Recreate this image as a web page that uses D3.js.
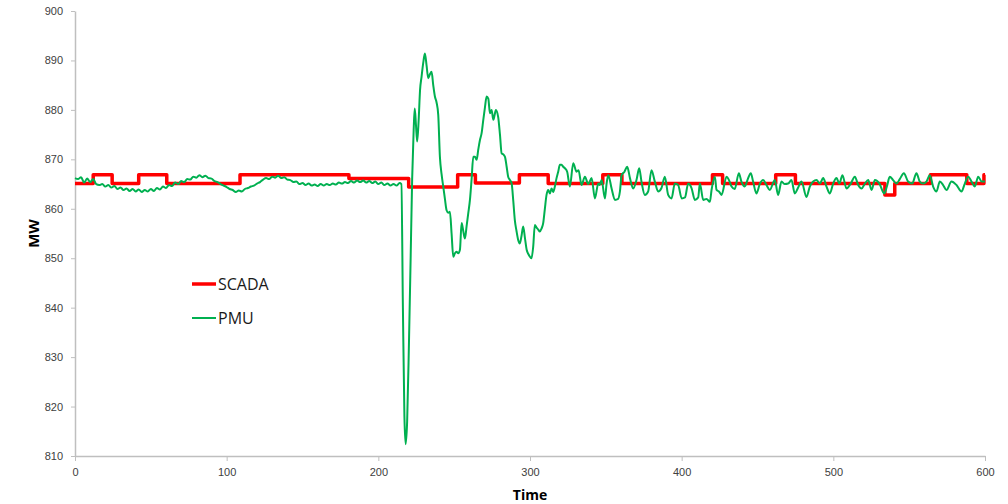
<!DOCTYPE html>
<meta charset="utf-8">
<html>
<head>
<style>
  body { margin: 0; background: #fff; }
  svg { font-family: "Open Sans", "Liberation Sans", sans-serif; }
  .axis path, .axis line { stroke: #bfbfbf; }
  .axis text { fill: #404040; font-size: 11px; }
</style>
</head>
<body>
<svg width="1008" height="504" id="chart"></svg>
<script src="https://d3js.org/d3.v7.min.js"></script>
<script>
// SCADA readings (step values, time in s)
var scadaT = [0, 12, 24.5, 42, 60.5, 108.8, 180.6, 220, 252.3, 264, 293, 312, 348, 360.6, 420.3, 427, 462, 475, 534, 540.5, 564, 588, 599.3, 600];
var scadaV = [865.1, 866.9, 865.1, 866.9, 865.1, 866.9, 866.1, 864.4, 866.9, 865.2, 866.9, 865.1, 866.9, 865.1, 866.9, 865.1, 866.9, 865.1, 862.8, 865.1, 866.9, 865.1, 866.9, 866.9];

// PMU readings
var pmuT = [0, 2, 4, 6, 8, 10, 12, 14, 16, 18, 20, 22, 24, 26, 28, 30, 32, 34, 36, 38, 40, 42, 44, 46, 48, 50,
  52, 54, 56, 58, 60, 62, 64, 66, 68, 70, 72, 74, 76, 78, 80, 82, 84, 86, 88, 90, 92, 94, 96, 98, 100,
  102, 104, 106, 108, 110, 112, 114, 116, 118, 120, 122, 124, 126, 128, 130, 132, 134, 136, 138, 140,
  142, 144, 146, 148, 150, 152, 154, 156, 158, 160, 162, 164, 166, 168, 170, 172, 174, 176, 178, 180,
  182, 184, 186, 188, 190, 192, 194, 196, 198, 200, 202, 204, 206, 208, 210, 212, 214,
  215.2, 216.2, 217.2, 218, 219, 220.2, 221.3, 222.3, 223.3, 224, 224.8, 225.6, 226.6, 227.5, 228.5,
  229.6, 230.7, 231.8, 232.9, 234, 235.1, 236.2, 237.3, 238.4, 239.5, 240.6, 241.7, 242.8, 243.9, 245,
  246.1, 247.2, 248.3, 249.4, 250.5, 251.6, 252.7, 253.8, 254.9, 256, 257.1, 258.2, 259.3, 260.4, 261.5,
  262.6, 263.7, 264.8, 265.9, 267, 268.1, 269.2, 270.3, 271.4, 272.5, 273.6, 274.7, 275.8, 276.7, 277.5,
  279, 280.2, 281.3, 282.4, 283.5, 284.6, 285.6, 286.8, 287.9, 289, 290, 291.1, 292.2, 293.3, 294.4,
  295.5, 296.7, 297.8, 299, 300, 301, 302.1, 303.2, 304.3, 305.4, 306.5, 307.6, 308.7, 309.8, 310.9,
  312, 313.1, 314.2, 315.3, 316.4, 317.5, 318.6, 319.7, 320.8, 321.9, 323, 324.5, 326.3, 328.5, 330.7,
  332, 334, 336.2, 338.4, 340.6, 342.8, 345, 346, 347.2, 349.4, 350.5, 351.6, 353.8, 356, 358.1, 359.3,
  360.4, 362.3, 364.1, 365.9, 368, 370.2, 372, 373.5, 375.7, 377.9, 380.1, 382.3, 384.5, 386.7, 388.9,
  391.1, 393.3, 395.5, 397.7, 400, 402.2, 404.3, 406.5, 408.7, 410.9, 412, 414.2, 416.4, 418.6, 419.7,
  421.9, 423, 424.6, 426.3, 429.6, 431.2, 432.9, 435, 437.7, 439.4, 441.6, 443.6, 445.6, 447.1, 449.3,
  451.5, 453.7, 455.9, 458.1, 461.4, 463.6, 465.8, 468, 470.2, 472.4, 474.6, 476.8, 479, 482.3, 484.5,
  486.7, 488.9, 491.1, 493.3, 495.5, 497.7, 499.9, 502.1, 504, 506, 508.7, 511.5, 514.2, 516.4, 518.6,
  520.8, 523, 525.2, 527.4, 530.4, 533.5, 535.3, 537.2, 539.4, 541.6, 543.8, 546.5, 549.3, 552, 554.8,
  557, 559.2, 561.4, 563.6, 565.8, 568, 570.2, 572.4, 574.6, 577.9, 581.2, 584.5, 586.7, 588.9, 591.1,
  593.3, 595.5, 597.8, 600];
var pmuV = [866.2, 866.0, 866.4, 865.3, 866.1, 865.4, 866.0, 865.0, 864.8, 865.0, 864.5, 864.8, 864.3, 864.6, 864.0, 864.3, 863.8, 864.1, 863.6, 864.0, 863.5, 863.9, 863.4, 863.8, 863.5, 864.0,
  863.6, 864.2, 863.9, 864.5, 864.2, 864.8, 864.6, 865.3, 865.0, 865.6, 865.4, 866.0, 865.9, 866.5, 866.3, 866.8, 866.4, 866.7, 866.2, 866.1, 865.6, 865.4, 865.0, 864.7, 864.4,
  864.0, 863.8, 863.4, 863.7, 863.5, 864.0, 864.2, 864.5, 864.7, 865.1, 865.4, 865.9, 866.2, 866.0, 866.5, 866.3, 866.7, 866.2, 866.4, 865.9,
  865.8, 865.4, 865.5, 865.0, 865.2, 864.8, 865.1, 864.7, 864.9, 864.6, 865.0, 864.7, 865.0, 864.8, 865.1, 864.9, 865.3, 865.1, 865.4, 865.2,
  865.6, 865.3, 865.7, 865.4, 865.7, 865.3, 865.6, 865.2, 865.5, 865.0, 865.3, 864.8, 865.1, 864.7, 865.0, 864.7, 865.2,
  865.0, 840, 818, 812.4, 817, 833, 850, 866, 876, 880.3, 877, 873.6, 878, 884, 886.7,
  889.5, 891.4, 889, 886.4, 887.2, 887.7, 885, 882.7, 881.5, 879, 870.5, 867, 864.5, 862, 859.7,
  859.2, 859.4, 855, 850.3, 851, 851.3, 851, 851.7, 857.1, 855.5, 854, 856.5, 859.1, 861.8, 866,
  870.5, 870.5, 869.9, 872, 873.9, 875.3, 878, 880.5, 882.7, 882.3, 879.3, 880, 878, 879, 880,
  878.6, 875, 871.2, 871, 870.5, 868.5, 866.5, 865.8, 865.1, 861.5, 857.7, 855.5, 853.7, 853, 854.5,
  856.4, 854, 851.7, 850.8, 850.3, 850, 852.3, 856.7, 856.2, 855.8, 855.4, 856, 857.1, 860, 862.8,
  863.8, 863.1, 864.1, 863.4, 864.5, 866.2, 867.5, 868.9, 868.9, 868.5, 868.2, 867.5, 864.5, 869.2, 867.5,
  867.8, 864.8, 866.5, 865, 866.2, 862.1, 865.1, 864.8, 865.8, 862.1, 865.1, 866.8, 864.1, 861.8, 862, 863.5,
  866.8, 867.5, 868.5, 866.2, 864.1, 865.8, 868.2, 865.5, 862.8, 863.5, 867.8, 865.5, 863.5, 864.2, 866.5,
  862.8, 862.1, 865.1, 864.8, 862.1, 862.3, 865.1, 864.2, 861.8, 862.3, 865.1, 861.8, 862, 861.4, 863.8,
  866.5, 863.8, 863.5, 862.8, 866.5, 865.8, 864.5, 864, 867.2, 865.5, 864.5, 866, 867.2, 865.5, 863.1,
  865, 865.8, 864.8, 863.8, 865.8, 862.8, 865.5, 865, 865.1, 865.8, 863.1, 864.3, 865.5, 862.4, 864.5,
  865.5, 865.8, 865.1, 866.2, 864.5, 863.1, 865.1, 866.2, 865.1, 866.8, 864.1, 865.1, 866.5, 864.8, 864.1,
  865.1, 865.8, 863.8, 865.8, 865.1, 863.1, 864.5, 866.5, 865.8, 865.1, 866, 867.2, 865.5, 865.1, 867.2,
  865.5, 865.1, 865.5, 866.8, 864.5, 863.5, 865.5, 864.8, 863.8, 865.5, 864.8, 863.5, 865.1, 866.5, 865.5,
  864.5, 866.5, 865.5, 865.5];

var xTicks = [0, 100, 200, 300, 400, 500, 600];
var yTicks = [810, 820, 830, 840, 850, 860, 870, 880, 890, 900];

var svg = d3.select("#chart"),
    margin = { top: 11, right: 23, bottom: 48, left: 75 },
    width = +svg.attr("width") - margin.left - margin.right,
    height = +svg.attr("height") - margin.top - margin.bottom;

var x = d3.scaleLinear().domain([0, 600]).range([0, width]),
    y = d3.scaleLinear().domain([810, 900]).range([height, 0]);

var g = svg.append("g")
    .attr("transform", "translate(" + margin.left + "," + margin.top + ")");

/* axes */
var yAxis = g.append("g")
    .attr("class", "axis")
    .call(d3.axisLeft(y).tickValues(yTicks).tickSize(4).tickPadding(8).tickSizeOuter(0));
yAxis.select(".domain").attr("stroke-width", 1.5);

var xAxis = g.append("g")
    .attr("class", "axis")
    .attr("transform", "translate(0," + height + ")")
    .call(d3.axisBottom(x).tickValues(xTicks).tickSize(5).tickPadding(7).tickSizeOuter(0));
xAxis.select(".domain").attr("stroke-width", 1.5);

/* axis titles */
svg.append("text")
    .attr("transform", "translate(39," + (margin.top + height / 2) + ") rotate(-90)")
    .attr("text-anchor", "middle")
    .style("font-size", "15px").style("font-weight", "bold").style("fill", "#000")
    .text("MW");
svg.append("text")
    .attr("x", margin.left + width / 2)
    .attr("y", 500)
    .attr("text-anchor", "middle")
    .style("font-size", "14px").style("font-weight", "bold").style("fill", "#000")
    .text("Time");

/* series */
var scada = scadaT.map(function (t, i) { return [t, scadaV[i]]; });
var pmu = pmuT.map(function (t, i) { return [t, pmuV[i]]; });

var stepLine = d3.line()
    .x(function (d) { return x(d[0]); })
    .y(function (d) { return y(d[1]); })
    .curve(d3.curveStepAfter);
var line = d3.line()
    .x(function (d) { return x(d[0]); })
    .y(function (d) { return y(d[1]); })
    .curve(d3.curveMonotoneX);

g.append("path")
    .datum(scada)
    .attr("fill", "none")
    .attr("stroke", "#ff0000")
    .attr("stroke-width", 3.5)
    .attr("stroke-linejoin", "round")
    .attr("d", stepLine);

g.append("path")
    .datum(pmu)
    .attr("fill", "none")
    .attr("stroke", "#00b050")
    .attr("stroke-width", 2)
    .attr("stroke-linejoin", "round")
    .attr("d", line);

/* legend */
var legend = svg.append("g").attr("transform", "translate(192,284)");
var items = [{ name: "SCADA", color: "#ff0000", w: 3.5 }, { name: "PMU", color: "#00b050", w: 2 }];
items.forEach(function (d, i) {
    legend.append("line")
        .attr("x1", 0).attr("x2", 24)
        .attr("y1", i * 34).attr("y2", i * 34)
        .attr("stroke", d.color).attr("stroke-width", d.w);
    legend.append("text")
        .attr("x", 26).attr("y", i * 34)
        .attr("dy", "0.35em")
        .style("font-size", "16px").style("fill", "#1a1a1a")
        .text(d.name);
});
</script>
</body>
</html>
